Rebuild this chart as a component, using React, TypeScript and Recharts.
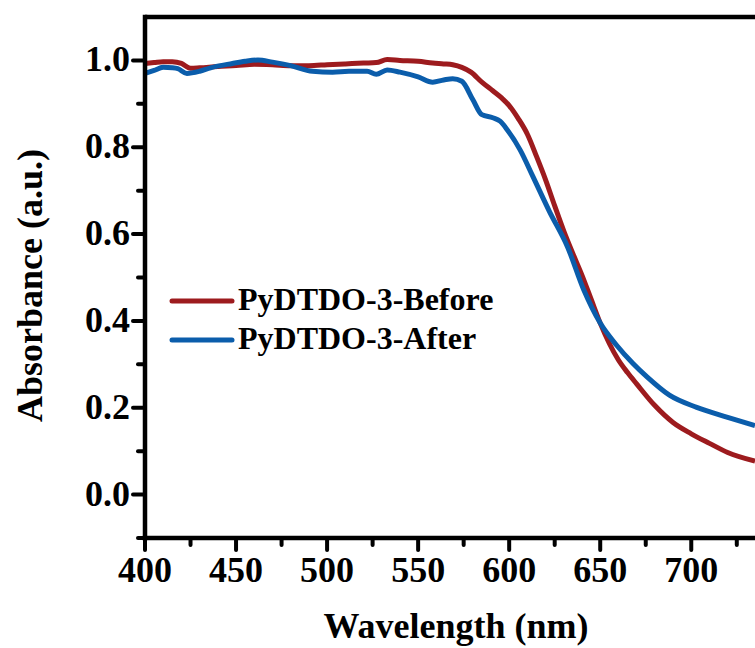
import React from 'react'
import { LineChart, Line, XAxis, YAxis, ReferenceLine, Legend } from 'recharts'

// wavelength (nm) / absorbance
const beforeWavelength = [400, 405, 410, 415, 420, 425, 430, 440, 450, 460, 470, 480, 490, 500, 510, 520, 527, 533, 540, 550, 558, 564, 569, 574, 579, 585, 591, 596, 600, 605, 610, 615, 620, 625, 630, 635, 640, 645, 650, 655, 660, 665, 670, 680, 690, 700, 710, 720, 735]
const beforeAbsorbance = [0.993, 0.995, 0.997, 0.997, 0.993, 0.982, 0.983, 0.986, 0.988, 0.991, 0.99, 0.988, 0.988, 0.99, 0.992, 0.994, 0.995, 1.002, 1.0, 0.998, 0.994, 0.992, 0.99, 0.984, 0.973, 0.95, 0.93, 0.913, 0.896, 0.866, 0.83, 0.779, 0.725, 0.665, 0.607, 0.555, 0.505, 0.45, 0.395, 0.348, 0.31, 0.281, 0.255, 0.205, 0.166, 0.14, 0.118, 0.097, 0.077]

const afterWavelength = [400, 405, 410, 415, 418, 423, 430, 436, 448, 455, 462, 470, 480, 492, 503, 512, 522, 527, 533, 540, 550, 558, 564, 569, 574, 580, 585, 591, 595, 599, 606, 613, 622, 632, 641, 650, 659, 668, 676, 688, 703, 720, 735]
const afterAbsorbance = [0.97, 0.977, 0.984, 0.983, 0.981, 0.97, 0.975, 0.983, 0.993, 0.998, 1.001, 0.996, 0.988, 0.975, 0.973, 0.975, 0.975, 0.968, 0.978, 0.973, 0.962, 0.95, 0.955, 0.958, 0.952, 0.91, 0.875, 0.868, 0.86, 0.84, 0.794, 0.733, 0.653, 0.571, 0.471, 0.395, 0.344, 0.302, 0.27, 0.229, 0.201, 0.178, 0.159]

const xTicks = [400, 425, 450, 475, 500, 525, 550, 575, 600, 625, 650, 675, 700, 725]
const yTicks = [-0.1, 0, 0.1, 0.2, 0.3, 0.4, 0.5, 0.6, 0.7, 0.8, 0.9, 1.0]

const seriesNames = ['PyDTDO-3-Before', 'PyDTDO-3-After']
const seriesColors = ['#9d1b1e', '#0b5dab']

const beforeData = beforeWavelength.map((w, i) => ({ w, a: beforeAbsorbance[i] }))
const afterData = afterWavelength.map((w, i) => ({ w, a: afterAbsorbance[i] }))

const textStyle = { fontFamily: '"Liberation Serif", "Times New Roman", Times, serif', fontWeight: 700 }

const XTick = (props: any) => {
  const { x, y, payload } = props
  const major = payload.value % 50 === 0
  return (
    <g>
      <line x1={x} y1={y} x2={x} y2={y + (major ? 12 : 7)} stroke="#000" strokeWidth={4} strokeLinecap="round" />
      {major && (
        <text x={x} y={y + 44} textAnchor="middle" style={{ ...textStyle, fontSize: 36 }}>
          {payload.value}
        </text>
      )}
    </g>
  )
}

const YTick = (props: any) => {
  const { x, y, payload } = props
  const v = payload.value
  const major = v >= 0 && Math.round(v * 10) % 2 === 0
  return (
    <g>
      <line x1={x} y1={y} x2={x - (major ? 12 : 7)} y2={y} stroke="#000" strokeWidth={4} strokeLinecap="round" />
      {major && (
        <text x={x - 15} y={y + 11} textAnchor="end" style={{ ...textStyle, fontSize: 36 }}>
          {v.toFixed(1)}
        </text>
      )}
    </g>
  )
}

const XTitle = (props: any) => {
  const { viewBox } = props
  const cx = viewBox.x + viewBox.width / 2 + 6
  return (
    <text x={cx} y={viewBox.y + viewBox.height - 10} textAnchor="middle" style={{ ...textStyle, fontSize: 36 }}>
      Wavelength (nm)
    </text>
  )
}

const YTitle = (props: any) => {
  const { viewBox } = props
  const cx = 42
  const cy = viewBox.y + viewBox.height / 2 + 8
  return (
    <text x={cx} y={cy} transform={`rotate(-90 ${cx} ${cy})`} textAnchor="middle" style={{ ...textStyle, fontSize: 36 }}>
      Absorbance (a.u.)
    </text>
  )
}

const LegendBox = () => (
  <svg width={340} height={90} style={{ display: 'block' }}>
    {seriesNames.map((name, i) => (
      <g key={name}>
        <line x1={7} y1={26 + i * 39} x2={67} y2={26 + i * 39} stroke={seriesColors[i]} strokeWidth={5} strokeLinecap="round" />
        <text x={73} y={35 + i * 39} style={{ ...textStyle, fontSize: 32 }}>
          {name}
        </text>
      </g>
    ))}
  </svg>
)

export default function App() {
  return (
    <div style={{ position: 'absolute', left: 0, top: 0, width: 755, height: 648, background: '#fff' }}>
      <LineChart width={755} height={648} margin={{ top: 17, right: 0, bottom: 0, left: 0 }}>
        <XAxis
          type="number"
          dataKey="w"
          domain={[400, 735]}
          allowDataOverflow
          ticks={xTicks}
          interval={0}
          height={110}
          tickSize={0}
          tickMargin={0}
          tickLine={false}
          tick={<XTick />}
          axisLine={{ stroke: '#000', strokeWidth: 4.5, strokeLinecap: 'square' }}
          label={<XTitle />}
        />
        <YAxis
          type="number"
          domain={[-0.1, 1.1]}
          allowDataOverflow
          ticks={yTicks}
          interval={0}
          width={145}
          tickSize={0}
          tickMargin={0}
          tickLine={false}
          tick={<YTick />}
          axisLine={{ stroke: '#000', strokeWidth: 4.5, strokeLinecap: 'square' }}
          label={<YTitle />}
        />
        <ReferenceLine y={1.1} stroke="#000" strokeWidth={4.5} />
        <Line data={beforeData} dataKey="a" name={seriesNames[0]} type="monotone" stroke={seriesColors[0]}
          strokeWidth={5} dot={false} isAnimationActive={false} />
        <Line data={afterData} dataKey="a" name={seriesNames[1]} type="monotone" stroke={seriesColors[1]}
          strokeWidth={5} dot={false} isAnimationActive={false} />
        <Legend
          layout="vertical"
          align="center"
          verticalAlign="middle"
          content={<LegendBox />}
          wrapperStyle={{ left: 165, top: 275, width: 340, height: 90 }}
        />
      </LineChart>
    </div>
  )
}
